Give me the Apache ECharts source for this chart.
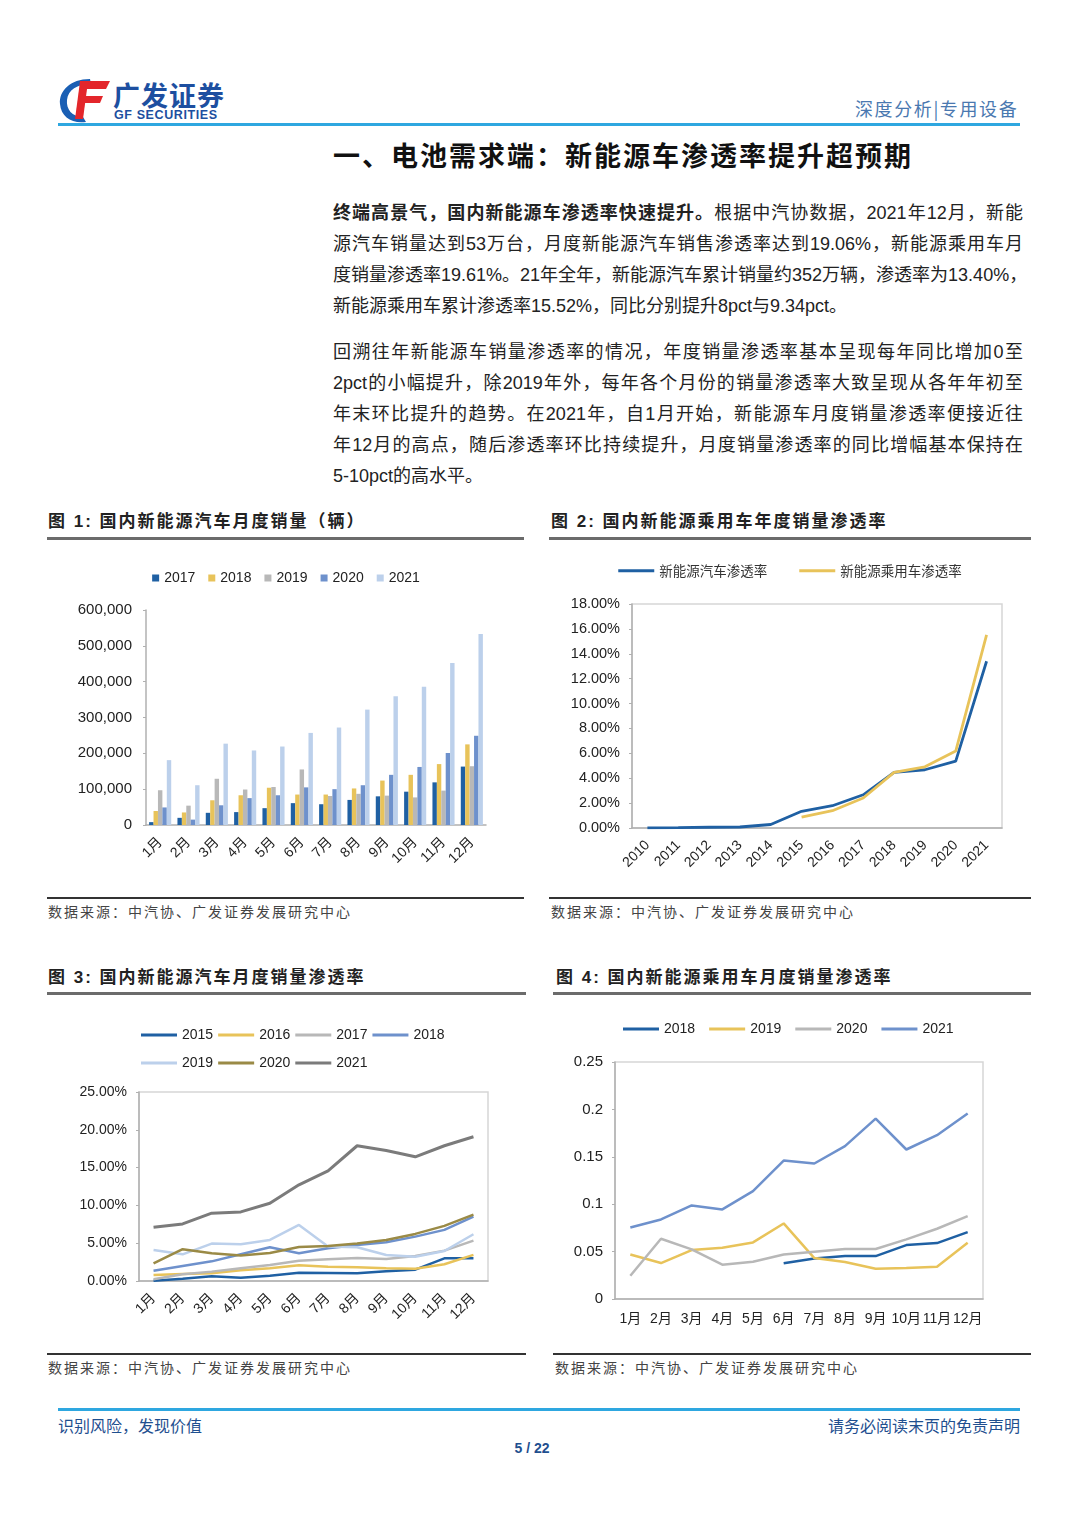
<!DOCTYPE html>
<html>
<head>
<meta charset="utf-8">
<script src="https://cdn.jsdelivr.net/npm/echarts/dist/echarts.min.js"></script>
<style>
  html, body { margin:0; padding:0; background:#fff; }
  body { width:1080px; height:1527px; position:relative; overflow:hidden;
         font-family:'Liberation Sans','Noto Sans CJK SC',sans-serif; color:#222; }
  .abs { position:absolute; white-space:nowrap; }
  .hline { position:absolute; }
  .para div { height:31px; line-height:31px; text-align:justify; text-align-last:justify; white-space:nowrap; }
  .para div.last { text-align-last:left; }
  .figt { position:absolute; font-size:17px; font-weight:700; letter-spacing:2px; line-height:24px; white-space:nowrap; color:#222; }
  .src { position:absolute; font-size:14px; letter-spacing:2px; line-height:20px; white-space:nowrap; color:#444; }
  .chart { position:absolute; }
</style>
</head>
<body>
<!-- header -->
<svg class="abs" style="left:58px;top:77px" width="54" height="48" viewBox="0 0 54 48">
  <path d="M32 2 C12 2 1 14 2 27 C3 40 14 47 28 45 L25 40 C14 40 8 32 9 23 C10 13 19 7 33 7 Z" fill="#1a5fb4"/>
  <path d="M22 4 L52 4 L48 12 L21 12 Z" fill="#e3262b"/>
  <path d="M21 12 L29 12 L25 42 L17 42 Z" fill="#e3262b"/>
  <path d="M23 19 L45 19 L42 26 L22 26 Z" fill="#e3262b"/>
</svg>
<div class="abs" style="left:113px;top:78px;font-size:27px;font-weight:700;color:#1d4fa0;line-height:34px;font-family:'Noto Sans CJK SC',sans-serif;letter-spacing:1px">广发证券</div>
<div class="abs" style="left:114px;top:108px;font-size:12.5px;font-weight:700;color:#1d4fa0;line-height:14px;letter-spacing:0.6px">GF SECURITIES</div>
<div class="abs" style="left:855px;top:96px;font-size:18px;color:#4a78b0;line-height:24px;font-family:'Noto Sans CJK SC',sans-serif;letter-spacing:1.6px">深度分析|专用设备</div>
<div class="hline" style="left:58px;top:123px;width:962px;height:3px;background:#2ea7e0"></div>

<div class="abs" style="left:333px;top:138px;font-size:27px;font-weight:700;letter-spacing:2px;line-height:34px;font-family:'Noto Sans CJK SC',sans-serif;color:#111">一、电池需求端：新能源车渗透率提升超预期</div>

<div class="abs para" style="left:333px;top:198px;width:690px;font-size:18px;">
  <div><b>终端高景气，国内新能源车渗透率快速提升。</b>根据中汽协数据，2021年12月，新能</div>
  <div>源汽车销量达到53万台，月度新能源汽车销售渗透率达到19.06%，新能源乘用车月</div>
  <div>度销量渗透率19.61%。21年全年，新能源汽车累计销量约352万辆，渗透率为13.40%，</div>
  <div class="last">新能源乘用车累计渗透率15.52%，同比分别提升8pct与9.34pct。</div>
</div>
<div class="abs para" style="left:333px;top:337px;width:690px;font-size:18px;">
  <div>回溯往年新能源车销量渗透率的情况，年度销量渗透率基本呈现每年同比增加0至</div>
  <div>2pct的小幅提升，除2019年外，每年各个月份的销量渗透率大致呈现从各年年初至</div>
  <div>年末环比提升的趋势。在2021年，自1月开始，新能源车月度销量渗透率便接近往</div>
  <div>年12月的高点，随后渗透率环比持续提升，月度销量渗透率的同比增幅基本保持在</div>
  <div class="last">5-10pct的高水平。</div>
</div>

<!-- figure titles row 1 -->
<div class="figt" style="left:48px;top:510px">图 1: 国内新能源汽车月度销量（辆）</div>
<div class="figt" style="left:551px;top:510px">图 2: 国内新能源乘用车年度销量渗透率</div>
<div class="hline" style="left:47px;top:537px;width:477px;height:3px;background:#6b6b6b"></div>
<div class="hline" style="left:549px;top:537px;width:482px;height:3px;background:#6b6b6b"></div>

<div id="c1" class="chart" style="left:47px;top:545px;width:478px;height:350px"></div>
<div id="c2" class="chart" style="left:549px;top:545px;width:482px;height:350px"></div>

<div class="hline" style="left:47px;top:897px;width:477px;height:2px;background:#333"></div>
<div class="hline" style="left:549px;top:897px;width:482px;height:2px;background:#333"></div>
<div class="src" style="left:48px;top:902px">数据来源：中汽协、广发证券发展研究中心</div>
<div class="src" style="left:551px;top:902px">数据来源：中汽协、广发证券发展研究中心</div>

<!-- figure titles row 2 -->
<div class="figt" style="left:48px;top:966px">图 3: 国内新能源汽车月度销量渗透率</div>
<div class="figt" style="left:556px;top:966px">图 4: 国内新能源乘用车月度销量渗透率</div>
<div class="hline" style="left:47px;top:992px;width:479px;height:3px;background:#6b6b6b"></div>
<div class="hline" style="left:553px;top:992px;width:478px;height:3px;background:#6b6b6b"></div>

<div id="c3" class="chart" style="left:47px;top:1000px;width:479px;height:350px"></div>
<div id="c4" class="chart" style="left:553px;top:1000px;width:478px;height:350px"></div>

<div class="hline" style="left:47px;top:1353px;width:479px;height:2px;background:#333"></div>
<div class="hline" style="left:553px;top:1353px;width:478px;height:2px;background:#333"></div>
<div class="src" style="left:48px;top:1358px">数据来源：中汽协、广发证券发展研究中心</div>
<div class="src" style="left:555px;top:1358px">数据来源：中汽协、广发证券发展研究中心</div>

<!-- footer -->
<div class="hline" style="left:58px;top:1408px;width:962px;height:3px;background:#2ea7e0"></div>
<div class="abs" style="left:58px;top:1414px;font-size:16px;color:#1f4f8f;line-height:22px;font-family:'Noto Sans CJK SC',sans-serif">识别风险，发现价值</div>
<div class="abs" style="right:60px;top:1414px;font-size:16px;color:#1f4f8f;line-height:22px;font-family:'Noto Sans CJK SC',sans-serif">请务必阅读末页的免责声明</div>
<div class="abs" style="left:0;width:1064px;text-align:center;top:1439px;font-size:14px;font-weight:700;color:#1f4f8f;line-height:18px">5 / 22</div>

<script>
// ---------- data ----------
const monthLabels = ['1月','2月','3月','4月','5月','6月','7月','8月','9月','10月','11月','12月'];

// Fig 1: monthly NEV sales (vehicles)
const salesYears = ['2017','2018','2019','2020','2021'];
const sales2017 = [8000, 20000, 34000, 36000, 47000, 61000, 58000, 70000, 80000, 93000, 119000, 163000];
const sales2018 = [39000, 35000, 69000, 83000, 104000, 85000, 85000, 102000, 124000, 140000, 170000, 225000];
const sales2019 = [97000, 54000, 129000, 99000, 106000, 155000, 81000, 87000, 82000, 77000, 96000, 164000];
const sales2020 = [49000, 15000, 55000, 75000, 83000, 105000, 100000, 111000, 140000, 162000, 201000, 249000];
const sales2021 = [181000, 111000, 227000, 208000, 219000, 257000, 272000, 322000, 359000, 386000, 452000, 533000];

// Fig 2: annual penetration (%)
const annualYears = ['2010','2011','2012','2013','2014','2015','2016','2017','2018','2019','2020','2021'];
const nevRateAnnual = [0.01, 0.03, 0.06, 0.08, 0.28, 1.34, 1.79, 2.67, 4.47, 4.68, 5.37, 13.40];
const passengerRateAnnual = [null, null, null, null, null, 0.88, 1.39, 2.41, 4.47, 4.92, 6.18, 15.52];
const annualNames = ['新能源汽车渗透率', '新能源乘用车渗透率'];

// Fig 3: monthly NEV penetration (%)
const rateYears = ['2015','2016','2017','2018','2019','2020','2021'];
const rate2015 = [0.04, 0.31, 0.62, 0.44, 0.71, 1.10, 1.06, 1.02, 1.28, 1.50, 3.00, 3.00];
const rate2016 = [0.80, 0.93, 1.02, 1.41, 1.68, 2.08, 1.90, 1.81, 1.68, 1.63, 2.21, 3.45];
const rate2017 = [0.22, 0.88, 1.24, 1.68, 2.12, 2.69, 2.87, 3.05, 2.92, 3.31, 4.02, 5.34];
const rate2018 = [1.37, 1.99, 2.60, 3.53, 4.46, 3.67, 4.33, 4.77, 5.12, 5.87, 6.76, 8.52];
const rate2019 = [4.10, 3.53, 4.95, 4.86, 5.43, 7.42, 4.55, 4.46, 3.45, 3.22, 3.97, 6.18];
const rate2020 = [2.34, 4.20, 3.67, 3.36, 3.71, 4.50, 4.64, 4.95, 5.43, 6.23, 7.29, 8.79];
const rate2021 = [7.11, 7.55, 8.97, 9.14, 10.29, 12.72, 14.58, 17.89, 17.27, 16.43, 17.89, 19.08];

// Fig 4: monthly NEV passenger-car penetration (fraction)
const pRateYears = ['2018','2019','2020','2021'];
const pRate2018 = [null, null, null, null, null, 0.0376, 0.0428, 0.0453, 0.0453, 0.0569, 0.0590, 0.0706];
const pRate2019 = [0.0470, 0.0379, 0.0516, 0.0541, 0.0597, 0.0797, 0.0432, 0.0390, 0.0320, 0.0327, 0.0341, 0.0594];
const pRate2020 = [0.0246, 0.0636, 0.0523, 0.0362, 0.0393, 0.0470, 0.0499, 0.0527, 0.0527, 0.0629, 0.0741, 0.0874];
const pRate2021 = [0.0755, 0.0839, 0.0987, 0.0945, 0.1138, 0.1460, 0.1429, 0.1612, 0.1903, 0.1577, 0.1728, 0.1956];

// ---------- styling ----------
const FONT = "'Liberation Sans','Noto Sans CJK SC',sans-serif";
const DARKBLUE = '#1f60a3', GOLD = '#e8c35a', GRAY = '#b8b8b8', MIDBLUE = '#6e91cc', LIGHTBLUE = '#bcd0eb', OLIVE = '#9a8a46', DARKGRAY = '#7b7b7b';
const AXISC = '#b0b0b0';
const txt = { color:'#222', fontFamily:FONT };

function lineSeries(name, data, color, width) {
  return { name, type:'line', data, showSymbol:false, symbol:'none', connectNulls:false,
           lineStyle:{ color, width: width || 2.5 }, itemStyle:{ color } };
}

// Chart 1
const c1 = echarts.init(document.getElementById('c1'), null, { renderer:'canvas' });
const salesData = [sales2017, sales2018, sales2019, sales2020, sales2021];
const salesColors = [DARKBLUE, GOLD, GRAY, MIDBLUE, LIGHTBLUE];
c1.setOption({
  animation:false,
  legend:{ top:21, left:'center', icon:'rect', itemWidth:7, itemHeight:7, itemGap:13,
           textStyle:Object.assign({ fontSize:14 }, txt), data:salesYears },
  grid:{ left:99, right:39, top:65, bottom:70 },
  xAxis:{ type:'category', data:monthLabels, boundaryGap:true,
          axisLine:{ lineStyle:{ color:AXISC, width:1.5 } }, axisTick:{ show:false },
          axisLabel:Object.assign({ rotate:45, fontSize:14, margin:15, interval:0 }, txt) },
  yAxis:{ type:'value', min:0, max:600000, interval:100000, splitLine:{ show:false },
          axisLine:{ show:true, lineStyle:{ color:AXISC, width:1.5 } }, axisTick:{ show:true, length:3, lineStyle:{ color:AXISC } },
          axisLabel:Object.assign({ fontSize:15, margin:14, formatter:v => v.toLocaleString('en-US') }, txt) },
  series: salesYears.map((y, i) => ({ name:y, type:'bar', data:salesData[i], barGap:'0%', barCategoryGap:'22%',
                                      itemStyle:{ color:salesColors[i] } }))
});

// Chart 2
const c2 = echarts.init(document.getElementById('c2'));
c2.setOption({
  animation:false,
  legend:{ top:14, left:'center', icon:'rect', itemWidth:36, itemHeight:3, itemGap:32,
           textStyle:{ fontSize:13.5, color:'#333', fontFamily:"'Noto Sans CJK SC',sans-serif" }, data:annualNames },
  grid:{ left:83, right:29, top:59, bottom:67, show:true, borderColor:'#d6d6d6', borderWidth:1.5 },
  xAxis:{ type:'category', data:annualYears, boundaryGap:true,
          axisLine:{ lineStyle:{ color:AXISC, width:1.5 } }, axisTick:{ show:false },
          axisLabel:Object.assign({ rotate:45, fontSize:14, margin:15, interval:0 }, txt) },
  yAxis:{ type:'value', min:0, max:18, interval:2, splitLine:{ show:false },
          axisLine:{ show:true, lineStyle:{ color:AXISC, width:1.5 } }, axisTick:{ show:true, length:3, lineStyle:{ color:AXISC } },
          axisLabel:Object.assign({ fontSize:14.5, margin:12, formatter:v => v.toFixed(2) + '%' }, txt) },
  series:[ lineSeries(annualNames[0], nevRateAnnual, DARKBLUE, 2.8),
           lineSeries(annualNames[1], passengerRateAnnual, GOLD, 2.8) ]
});

// Chart 3
const c3 = echarts.init(document.getElementById('c3'));
const rateData = [rate2015, rate2016, rate2017, rate2018, rate2019, rate2020, rate2021];
const rateColors = [DARKBLUE, GOLD, GRAY, MIDBLUE, LIGHTBLUE, OLIVE, DARKGRAY];
c3.setOption({
  animation:false,
  legend:[
    { top:23, left:89, icon:'rect', itemWidth:36, itemHeight:3, itemGap:5,
      textStyle:Object.assign({ fontSize:14 }, txt), data:rateYears.slice(0,4) },
    { top:51, left:89, icon:'rect', itemWidth:36, itemHeight:3, itemGap:5,
      textStyle:Object.assign({ fontSize:14 }, txt), data:rateYears.slice(4) }
  ],
  grid:{ left:92, right:38, top:92, bottom:69, show:true, borderColor:'#d6d6d6', borderWidth:1.5 },
  xAxis:{ type:'category', data:monthLabels, boundaryGap:true,
          axisLine:{ lineStyle:{ color:AXISC, width:1.5 } }, axisTick:{ show:false },
          axisLabel:Object.assign({ rotate:45, fontSize:14, margin:15, interval:0 }, txt) },
  yAxis:{ type:'value', min:0, max:25, interval:5, splitLine:{ show:false },
          axisLine:{ show:true, lineStyle:{ color:AXISC, width:1.5 } }, axisTick:{ show:true, length:3, lineStyle:{ color:AXISC } },
          axisLabel:Object.assign({ fontSize:14, margin:12, formatter:v => v.toFixed(2) + '%' }, txt) },
  series: rateYears.map((y, i) => lineSeries(y, rateData[i], rateColors[i], i === 6 ? 3 : 2.5))
});

// Chart 4
const c4 = echarts.init(document.getElementById('c4'));
const pRateData = [pRate2018, pRate2019, pRate2020, pRate2021];
const pRateColors = [DARKBLUE, GOLD, GRAY, MIDBLUE];
c4.setOption({
  animation:false,
  legend:{ top:17, left:65, icon:'rect', itemWidth:36, itemHeight:3, itemGap:14,
           textStyle:Object.assign({ fontSize:14 }, txt), data:pRateYears },
  grid:{ left:62, right:48, top:62, bottom:51, show:true, borderColor:'#d6d6d6', borderWidth:1.5 },
  xAxis:{ type:'category', data:monthLabels, boundaryGap:true,
          axisLine:{ lineStyle:{ color:AXISC, width:1.5 } }, axisTick:{ show:false },
          axisLabel:Object.assign({ fontSize:14, margin:13, interval:0 }, txt) },
  yAxis:{ type:'value', min:0, max:0.25, interval:0.05, splitLine:{ show:false },
          axisLine:{ show:true, lineStyle:{ color:AXISC, width:1.5 } }, axisTick:{ show:true, length:3, lineStyle:{ color:AXISC } },
          axisLabel:Object.assign({ fontSize:15, margin:12, formatter:v => String(+v.toFixed(2)) }, txt) },
  series: pRateYears.map((y, i) => lineSeries(y, pRateData[i], pRateColors[i], 2.5))
});
</script>
</body>
</html>
